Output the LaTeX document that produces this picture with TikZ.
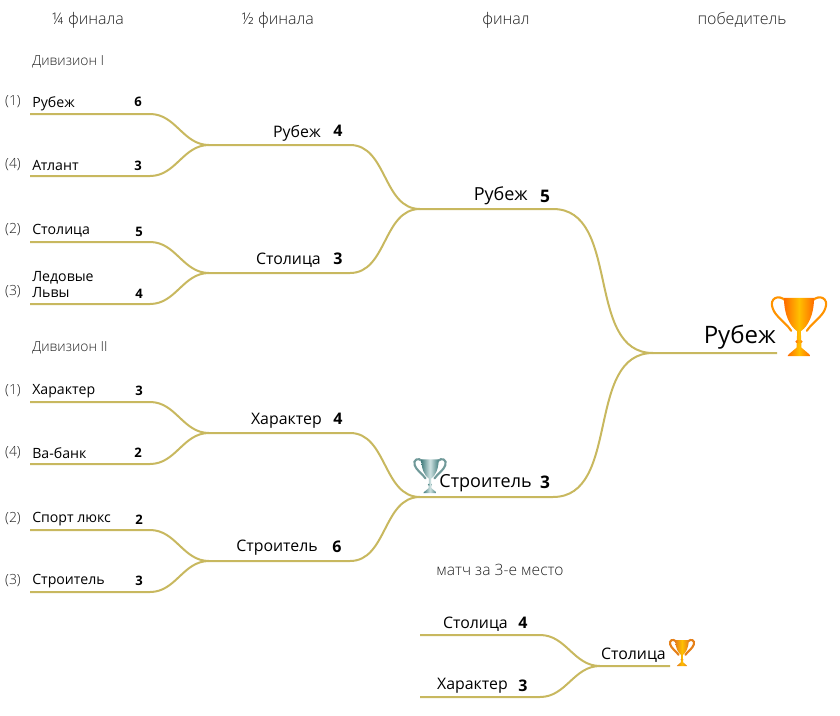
\documentclass[tikz,border=0pt]{standalone}
\usepackage{fontspec}
\setmainfont{Open Sans}
\newfontfamily\lightfont{Open Sans Light}
\usetikzlibrary{positioning}
\definecolor{bracket}{HTML}{C8B85F}
\definecolor{heading}{HTML}{222222}
\tikzset{
  bline/.style={draw=bracket, line width=1.5pt},
  colhead/.style={text=heading, font=\lightfont\fontsize{12}{14}\selectfont, inner sep=0pt},
  divhead/.style={colhead, anchor=west, font=\lightfont\fontsize{10.4}{12}\selectfont},
  seed/.style={text=heading, font=\lightfont\fontsize{10.5}{12}\selectfont, inner sep=0pt},
  team/.style={anchor=west, text=black, font=\fontsize{10.6}{12}\selectfont, inner sep=0pt},
  semi/.style={anchor=east, text=black, font=\fontsize{11.9}{14}\selectfont, inner sep=0pt},
  finalist/.style={semi, font=\fontsize{13.5}{15}\selectfont},
  goal/.style={text=black, font=\fontsize{9.8}{11}\selectfont\bfseries, inner sep=0pt},
  goalbig/.style={text=black, font=\fontsize{12}{14}\selectfont\bfseries, inner sep=0pt},
  pics/trophy/.style n args={3}{code={
    % handles
    \draw[#3, line width=0.035*45pt, fill=none] (-0.22,0.92) .. controls (-0.34,1.04) and (-0.50,0.96) .. (-0.44,0.80)
      .. controls (-0.40,0.66) and (-0.22,0.56) .. (-0.13,0.42);
    \draw[#3, line width=0.035*45pt, fill=none] (0.22,0.92) .. controls (0.34,1.04) and (0.50,0.96) .. (0.44,0.80)
      .. controls (0.40,0.66) and (0.22,0.56) .. (0.13,0.42);
    % bowl
    \path[left color=#1, right color=#1, middle color=#2] (-0.25,0.97) -- (0.25,0.97) .. controls (0.25,0.68) and (0.15,0.50) .. (0.04,0.42)
      -- (-0.04,0.42) .. controls (-0.15,0.50) and (-0.25,0.68) .. (-0.25,0.97) -- cycle;
    % stem and foot
    \path[left color=#1, right color=#1, middle color=#2] (-0.03,0.44) -- (0.03,0.44) -- (0.04,0.14) -- (0.17,0.03) -- (0.19,0) -- (-0.19,0)
      -- (-0.17,0.03) -- (-0.04,0.14) -- cycle;
    \path[left color=#1, right color=#1, middle color=#2] (0,0.24) ellipse (0.06 and 0.03);
  }},
}
\begin{document}
\begin{tikzpicture}[x=0.75pt, y=-0.75pt]
  \useasboundingbox (0,0) rectangle (840,715);

  % Headings
  \node[colhead] (h1) at (88,20) {¼ финала};
  \node[colhead] (h2) at (278,20) {½ финала};
  \node[colhead] (h3) at (506,20) {финал};
  \node[colhead] (h4) at (742,20) {победитель};
  \node[divhead] (div1) at (32,62) {Дивизион I};
  \node[divhead] (div2) at (32,348) {Дивизион II};

  % Quarter final lines
  \coordinate (qa1) at (30,114);  \coordinate (qb1) at (150,114);
  \coordinate (qa2) at (30,176);  \coordinate (qb2) at (150,176);
  \coordinate (qa3) at (30,242);  \coordinate (qb3) at (150,242);
  \coordinate (qa4) at (30,304);  \coordinate (qb4) at (150,304);
  \coordinate (qa5) at (30,402);  \coordinate (qb5) at (150,402);
  \coordinate (qa6) at (30,464);  \coordinate (qb6) at (150,464);
  \coordinate (qa7) at (30,530);  \coordinate (qb7) at (150,530);
  \coordinate (qa8) at (30,592);  \coordinate (qb8) at (150,592);

  % Semi final lines
  \coordinate (sa1) at (209,145);  \coordinate (sb1) at (350,145);
  \coordinate (sa2) at (209,273);  \coordinate (sb2) at (350,273);
  \coordinate (sa3) at (209,433);  \coordinate (sb3) at (350,433);
  \coordinate (sa4) at (209,561);  \coordinate (sb4) at (350,561);

  % Final lines
  \coordinate (fa1) at (420,209);  \coordinate (fb1) at (553,209);
  \coordinate (fa2) at (420,497);  \coordinate (fb2) at (553,497);
  \coordinate (wa) at (653,353);   \coordinate (wb) at (777,353);

  % Third place lines
  \coordinate (ta1) at (420,635);  \coordinate (tb1) at (540,635);
  \coordinate (ta2) at (420,697);  \coordinate (tb2) at (540,697);
  \coordinate (ua) at (600,666);   \coordinate (ub) at (670,666);

  \draw[bline] (qa1) -- (qb1) to[out=0, in=180] (sa1) -- (sb1) to[out=0, in=180] (fa1) -- (fb1) to[out=0, in=180] (wa) -- (wb);
  \draw[bline] (qa2) -- (qb2) to[out=0, in=180] (sa1);
  \draw[bline] (qa3) -- (qb3) to[out=0, in=180] (sa2);
  \draw[bline] (qa4) -- (qb4) to[out=0, in=180] (sa2) -- (sb2) to[out=0, in=180] (fa1);
  \draw[bline] (qa5) -- (qb5) to[out=0, in=180] (sa3) -- (sb3) to[out=0, in=180] (fa2) -- (fb2) to[out=0, in=180] (wa);
  \draw[bline] (qa6) -- (qb6) to[out=0, in=180] (sa3);
  \draw[bline] (qa7) -- (qb7) to[out=0, in=180] (sa4);
  \draw[bline] (qa8) -- (qb8) to[out=0, in=180] (sa4) -- (sb4) to[out=0, in=180] (fa2);
  \draw[bline] (ta1) -- (tb1) to[out=0, in=180] (ua) -- (ub);
  \draw[bline] (ta2) -- (tb2) to[out=0, in=180] (ua);

  % Seeds
  \node[seed] (s1) at (13,102) {(1)};
  \node[seed] (s2) at (13,165) {(4)};
  \node[seed] (s3) at (13,230) {(2)};
  \node[seed] (s4) at (13,292) {(3)};
  \node[seed] (s5) at (13,391) {(1)};
  \node[seed] (s6) at (13,453) {(4)};
  \node[seed] (s7) at (13,519) {(2)};
  \node[seed] (s8) at (13,581) {(3)};

  % Quarter final teams
  \node[team] (t1) at (32,104) {Рубеж};
  \node[team] (t2) at (32,165) {Атлант};
  \node[team] (t3) at (32,231) {Столица};
  \node[team, align=left] (t4) at (32,285) {Ледовые\\Львы};
  \node[team] (t5) at (32,391) {Характер};
  \node[team] (t6) at (32,453) {Ва-банк};
  \node[team] (t7) at (32,519) {Спорт люкс};
  \node[team] (t8) at (32,581) {Строитель};
  \node[goal] (g1) at (138,102) {6};
  \node[goal] (g2) at (138,166) {3};
  \node[goal] (g3) at (139,232) {5};
  \node[goal] (g4) at (139,294) {4};
  \node[goal] (g5) at (139,391) {3};
  \node[goal] (g6) at (138,453) {2};
  \node[goal] (g7) at (139,520) {2};
  \node[goal] (g8) at (139,581) {3};

  % Semi final teams
  \node[semi] (m1) at (321,133) {Рубеж};
  \node[semi] (m2) at (321,260) {Столица};
  \node[semi] (m3) at (322,421) {Характер};
  \node[semi] (m4) at (318,548) {Строитель};
  \node[goalbig] (n1) at (338,131) {4};
  \node[goalbig] (n2) at (338,259) {3};
  \node[goalbig] (n3) at (338,419) {4};
  \node[goalbig] (n4) at (337,547) {6};

  % Finalists and winner
  \node[finalist] (f1) at (528,196) {Рубеж};
  \node[finalist] (f2) at (532,483) {Строитель};
  \node[goalbig, font=\fontsize{13}{15}\selectfont\bfseries] (r1) at (545,196) {5};
  \node[goalbig, font=\fontsize{13}{15}\selectfont\bfseries] (r2) at (545,482) {3};
  \node[semi, font=\fontsize{18}{20}\selectfont] (w) at (776,337) {Рубеж};

  % Third place match
  \node[colhead, font=\lightfont\fontsize{11.7}{13}\selectfont] (tp) at (500,570) {матч за 3-е место};
  \node[semi] (c1) at (508,624) {Столица};
  \node[semi] (c2) at (508,686) {Характер};
  \node[goalbig] (d1) at (523,623) {4};
  \node[goalbig] (d2) at (523,686) {3};
  \node[semi] (u) at (666,655) {Столица};

  % Trophies
  \coordinate (cup1) at (799,356);
  \coordinate (cup2) at (430,493);
  \coordinate (cup3) at (682,666);
  \pic[x=45pt, y=45pt, line cap=round] at (cup1) {trophy={orange!85!red}{yellow!50!orange}{orange!85!yellow}};
  \pic[x=26pt, y=26pt, line cap=round] at (cup2) {trophy={teal!45!gray}{cyan!25!gray!30}{teal!40!gray!80}};
  \pic[x=20pt, y=20pt, line cap=round] at (cup3) {trophy={orange!60!brown}{yellow!50!orange}{orange!60!brown}};
\end{tikzpicture}
\end{document}
